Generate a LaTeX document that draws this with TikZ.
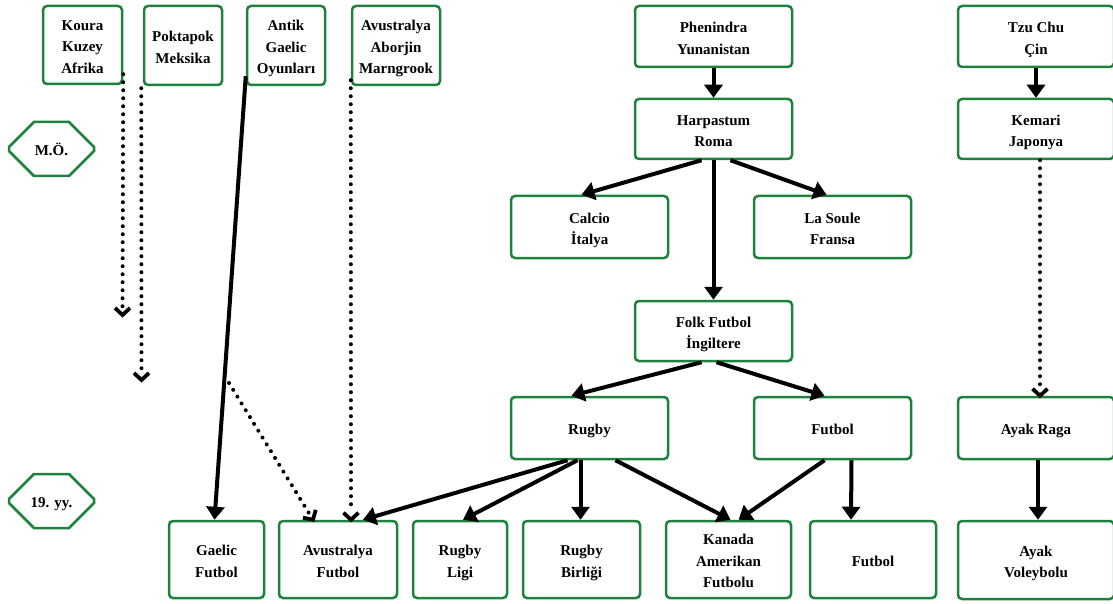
\documentclass[tikz,border=0pt]{standalone}
\usepackage{fontspec}
\setmainfont{Liberation Serif}
\usetikzlibrary{arrows.meta,shapes.misc,decorations.markings}
\definecolor{boxgreen}{RGB}{28,130,60}
% centred stack of lines with even row struts, set a little low in the box
\newcommand\cardtext[1]{\begin{tabular}{@{}c@{}}\rule{0pt}{20pt}#1\end{tabular}}
\begin{document}
\begin{tikzpicture}[x=1pt,y=-1pt,
  lbl/.style={font=\fontsize{15}{21.5}\selectfont\bfseries},
  card/.style={lbl, draw=boxgreen, line width=2.5pt, rounded corners=4pt,
    inner sep=0pt, minimum height=62pt},
  era/.style={lbl, draw=boxgreen, line width=2.5pt, chamfered rectangle,
    chamfered rectangle xsep=13pt, chamfered rectangle ysep=12pt,
    inner sep=0pt, minimum width=85pt, minimum height=54pt},
  flow/.style={line width=4pt, -{Triangle[length=13pt,width=18pt]}},
  % a row of round dots ending in an open chevron
  dotlink/.style={decoration={markings,
      mark=between positions 0 and 0.97 step 8pt with {\fill circle (2pt);},
      mark=at position 1 with {\draw[line width=3.8pt, line join=miter]
        (-7pt,-7.5pt) -- (0pt,0pt) -- (-7pt,7.5pt);}},
    decorate}]
\useasboundingbox (0,0) rectangle (1113,604);

% top row: ancient games
\node[card, minimum width=79pt, minimum height=78pt] (koura) at (82.5,45) {\cardtext{Koura\\Kuzey\\Afrika}};
\node[card, minimum width=78pt, minimum height=79pt] (poktapok) at (183,45.5) {\cardtext{Poktapok\\Meksika}};
\node[card, minimum width=78pt, minimum height=79pt] (antik) at (286,45.5) {\cardtext{Antik\\Gaelic\\Oyunları}};
\node[card, minimum width=88pt, minimum height=79pt] (aborjin) at (396,45.5) {\cardtext{Avustralya\\Aborjin\\Marngrook}};
\node[card, minimum width=157pt, minimum height=61pt] (phenindra) at (713.5,36.5) {\cardtext{Phenindra\\Yunanistan}};
\node[card, minimum width=156pt, minimum height=61pt] (tzuchu) at (1036,36.5) {\cardtext{Tzu Chu\\Çin}};

\node[card, minimum width=157pt, minimum height=60pt] (harpastum) at (713.5,129) {\cardtext{Harpastum\\Roma}};
\node[card, minimum width=156pt, minimum height=60pt] (kemari) at (1036,129) {\cardtext{Kemari\\Japonya}};

\node[card, minimum width=157pt] (calcio) at (589.5,227) {\cardtext{Calcio\\İtalya}};
\node[card, minimum width=157pt] (lasoule) at (832.5,227) {\cardtext{La Soule\\Fransa}};
\node[card, minimum width=157pt, minimum height=60pt] (folk) at (713.5,331) {\cardtext{Folk Futbol\\İngiltere}};

\node[card, minimum width=157pt] (rugby) at (589.5,428) {\cardtext{Rugby}};
\node[card, minimum width=157pt] (futbol) at (832.5,428) {\cardtext{Futbol}};
\node[card, minimum width=156pt] (ayakraga) at (1036,428) {\cardtext{Ayak Raga}};

% bottom row: modern codes
\node[card, minimum width=95pt, minimum height=77pt] (gaelic) at (216.5,559.5) {\cardtext{Gaelic\\Futbol}};
\node[card, minimum width=118pt, minimum height=77pt] (avfutbol) at (338,559.5) {\cardtext{Avustralya\\Futbol}};
\node[card, minimum width=94pt, minimum height=77pt] (ligi) at (460,559.5) {\cardtext{Rugby\\Ligi}};
\node[card, minimum width=117pt, minimum height=77pt] (birligi) at (581.5,559.5) {\cardtext{Rugby\\Birliği}};
\node[card, minimum width=125pt, minimum height=77pt] (kanada) at (728.5,559.5) {\cardtext{Kanada\\Amerikan\\Futbolu}};
\node[card, minimum width=126pt, minimum height=77pt] (futbolb) at (873,559.5) {\cardtext{Futbol}};
\node[card, minimum width=156pt, minimum height=78pt] (voleybolu) at (1036,560) {\cardtext{Ayak\\Voleybolu}};

% era markers
\node[era] (mo) at (51.5,149) {\cardtext{M.Ö.}};
\node[era] (yy) at (51.5,501) {\cardtext{19. yy.}};

% free ends of the dotted links
\coordinate (kouraend) at (122.5,315);
\coordinate (poktapokend) at (141.5,380);
\coordinate (gaelicsplit) at (229,383);

% solid lines of descent
\draw[flow] (phenindra.south) -- (harpastum.north);
\draw[flow] (tzuchu.south) -- (kemari.north);
\draw[flow] ([xshift=-12pt]harpastum.south) -- ([xshift=-8pt]calcio.north);
\draw[flow] ([xshift=17pt]harpastum.south) -- ([xshift=-6pt]lasoule.north);
\draw[flow] (harpastum.south) -- (folk.north);
\draw[flow] ([xshift=-12pt]folk.south) -- ([xshift=-18pt]rugby.north);
\draw[flow] ([xshift=3pt]folk.south) -- ([xshift=-8pt]futbol.north);
\draw[flow] ([xshift=-22pt]rugby.south) -- ([xshift=25pt]avfutbol.north);
\draw[flow] ([xshift=-12pt]rugby.south) -- ([xshift=3pt]ligi.north);
\draw[flow] ([xshift=-9pt]rugby.south) -- ([xshift=-1pt]birligi.north);
\draw[flow] ([xshift=26pt]rugby.south) -- ([xshift=2pt]kanada.north);
\draw[flow] ([xshift=-8pt]futbol.south) -- ([xshift=10pt]kanada.north);
\draw[flow] ([xshift=19pt]futbol.south) -- ([xshift=-22pt]futbolb.north);
\draw[flow] ([xshift=2pt]ayakraga.south) -- ([xshift=2pt]voleybolu.north);
\draw[flow] ([yshift=10pt]antik.south west) -- ([xshift=-2pt]gaelic.north);

% dotted links of influence
\path[dotlink] ([yshift=11pt]koura.south east) -- (kouraend);
\path[dotlink] ([xshift=-1.5pt,yshift=-2pt]poktapok.south west) -- (poktapokend);
\path[dotlink] ([yshift=6pt]aborjin.south west) -- ([xshift=13pt]avfutbol.north);
\path[dotlink] (gaelicsplit) -- ([xshift=-25pt]avfutbol.north);
\path[dotlink] ([xshift=4pt]kemari.south) -- ([xshift=4pt]ayakraga.north);
\end{tikzpicture}
\end{document}
